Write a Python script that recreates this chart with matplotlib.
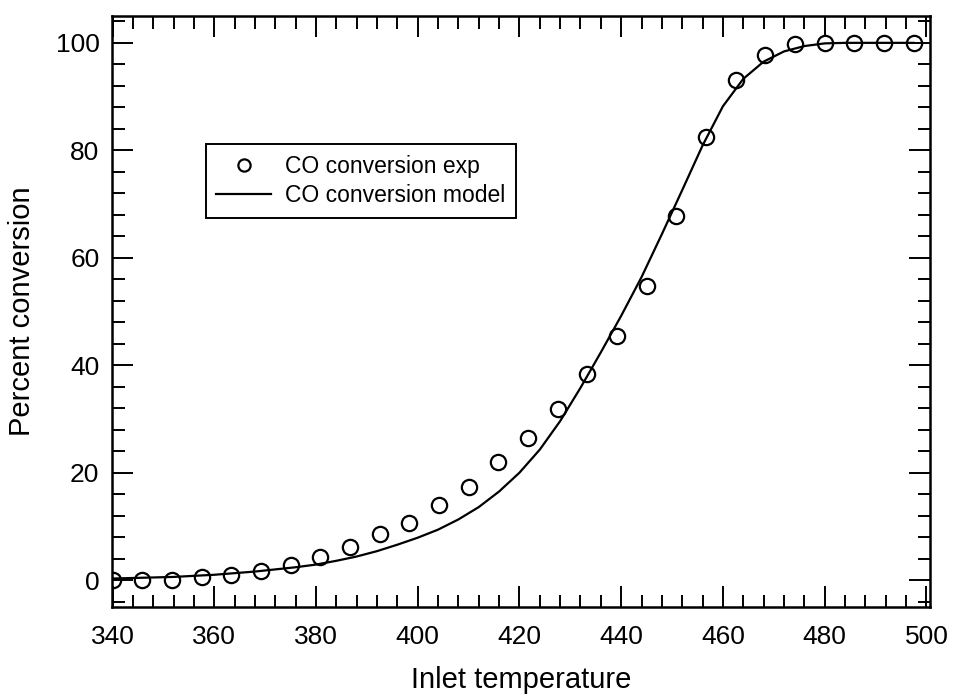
import matplotlib
matplotlib.use('Agg')
import matplotlib.pyplot as plt
from matplotlib.ticker import MultipleLocator

# inlet temperature of the measured points
temp = [340.0, 345.8, 351.7, 357.5, 363.3, 369.2, 375.0, 380.8, 386.7, 392.5,
        398.3, 404.2, 410.0, 415.8, 421.7, 427.5, 433.3, 439.2, 445.0, 450.8,
        456.7, 462.5, 468.3, 474.2, 480.0, 485.8, 491.7, 497.5]
# measured CO conversion (%)
conv_exp = [0.0, 0.0, 0.0, 0.6, 1.0, 1.7, 2.9, 4.3, 6.1, 8.6,
            10.7, 13.9, 17.4, 21.9, 26.5, 31.8, 38.3, 45.5, 54.7, 67.8,
            82.5, 93.0, 97.8, 99.8, 100.0, 100.0, 100.0, 100.0]

# model curve
temp_model = [340, 344, 348, 352, 356, 360, 364, 368, 372, 376,
              380, 384, 388, 392, 396, 400, 404, 408, 412, 416,
              420, 424, 428, 432, 436, 440, 444, 448, 452, 456,
              460, 464, 468, 472, 476, 480, 484, 488, 492, 496, 497.5]
conv_model = [0.3, 0.4, 0.5, 0.6, 0.8, 1.0, 1.3, 1.6, 2.0, 2.4,
              2.9, 3.6, 4.4, 5.4, 6.6, 7.9, 9.4, 11.3, 13.6, 16.5,
              20.0, 24.3, 29.6, 35.8, 42.4, 49.2, 56.4, 64.4, 72.6, 80.9,
              88.2, 93.3, 96.5, 98.4, 99.4, 99.9, 100.0, 100.0, 100.0, 100.0, 100.0]

plt.rcParams['font.family'] = ['Liberation Sans', 'DejaVu Sans']

fig = plt.figure(figsize=(9.54, 6.95), dpi=100)
ax = fig.add_axes([0.1174, 0.1266, 0.8574, 0.8504])

ax.plot(temp, conv_exp, 'o', mfc='none', mec='black', ms=11, mew=1.6,
        label='CO conversion exp')
ax.plot(temp_model, conv_model, '-', color='black', lw=1.6,
        label='CO conversion model')

ax.set_xlim(339.9, 500.7)
ax.set_ylim(-5, 105)
ax.xaxis.set_major_locator(MultipleLocator(20))
ax.xaxis.set_minor_locator(MultipleLocator(4))
ax.yaxis.set_major_locator(MultipleLocator(20))
ax.yaxis.set_minor_locator(MultipleLocator(4))

ax.tick_params(which='both', direction='in', top=True, right=True,
               width=1.4, color='black')
ax.tick_params(which='major', length=15)
ax.tick_params(which='minor', length=9)
ax.tick_params(axis='x', which='major', pad=13, labelsize=19)
ax.tick_params(axis='y', which='major', pad=9, labelsize=19)
for sp in ax.spines.values():
    sp.set_linewidth(1.8)

ax.set_xlabel('Inlet temperature', fontsize=21, labelpad=12)
ax.set_ylabel('Percent conversion', fontsize=21, labelpad=14)

leg = ax.legend(loc='upper left', bbox_to_anchor=(0.115, 0.783),
                borderaxespad=0, fontsize=16.5, handlelength=2.4,
                handletextpad=0.6, borderpad=0.45, labelspacing=0.3,
                markerscale=0.8, fancybox=False, framealpha=1,
                edgecolor='black')
leg.get_frame().set_linewidth(1.4)

fig.savefig('out.png', dpi=100)
